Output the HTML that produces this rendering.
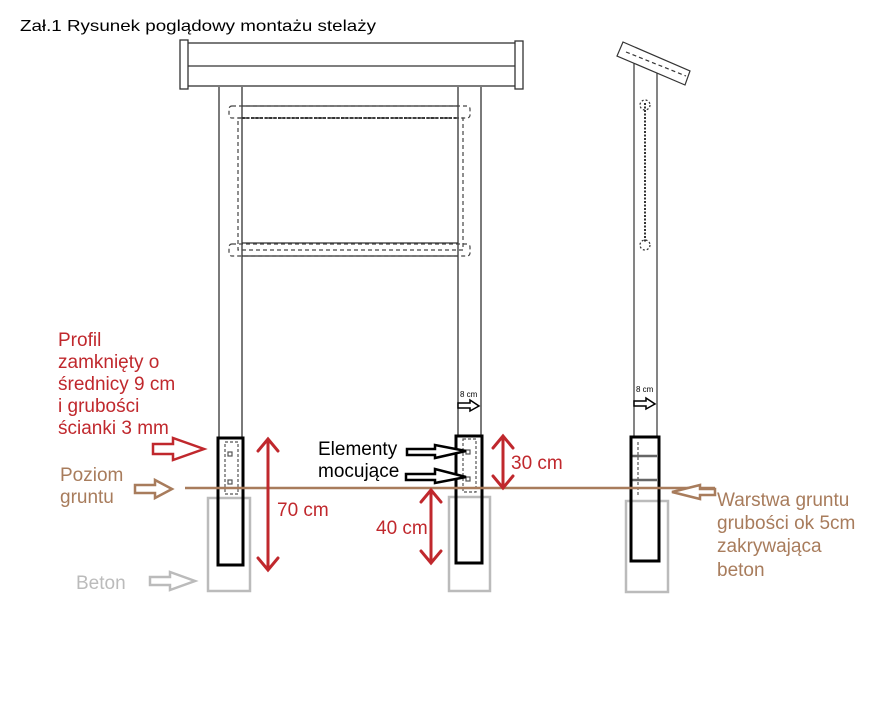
<!DOCTYPE html>
<html><head><meta charset="utf-8"><style>
html,body{margin:0;padding:0;background:#fff;}
svg{display:block;font-family:"Liberation Sans","DejaVu Sans",sans-serif;}
</style></head><body>
<svg width="873" height="719" viewBox="0 0 873 719" xmlns="http://www.w3.org/2000/svg">
<rect width="873" height="719" fill="#fff"/>
<text x="20" y="31" font-size="16" fill="#000" textLength="356" lengthAdjust="spacingAndGlyphs">Zał.1 Rysunek poglądowy montażu stelaży</text>

<g stroke="#333" fill="none" stroke-width="1.3">
<rect x="187" y="43" width="329" height="43"/>
<line x1="187" y1="66" x2="516" y2="66"/>
<rect x="180" y="40" width="8" height="49" fill="#fff"/>
<rect x="515" y="41" width="8" height="48" fill="#fff"/>
<line x1="219" y1="87" x2="219" y2="437"/>
<line x1="242" y1="87" x2="242" y2="437"/>
<line x1="458" y1="87" x2="458" y2="435"/>
<line x1="481" y1="87" x2="481" y2="435"/>
<line x1="242" y1="106" x2="458" y2="106"/>
<line x1="242" y1="118" x2="458" y2="118" stroke-width="2" stroke-dasharray="3,1.5"/>
<line x1="242" y1="243" x2="458" y2="243"/>
<line x1="242" y1="256" x2="458" y2="256"/>
</g>
<g stroke="#444" fill="none" stroke-width="1.2" stroke-dasharray="4,3">
<rect x="229" y="106" width="241" height="12" rx="3"/>
<rect x="229" y="244" width="241" height="12" rx="3"/>
<rect x="238" y="118" width="225" height="132"/>
</g>

<g stroke="#333" fill="none" stroke-width="1.2">
<line x1="634" y1="58" x2="634" y2="437"/>
<line x1="657" y1="60" x2="657" y2="437"/>
<polygon points="623,42 690,71 685,85 617,56" fill="#fff"/>
<polyline points="626,52 686,76" stroke-dasharray="4,3"/>
<path d="M645,103 v140" stroke-dasharray="2,1.5" stroke-width="2"/>
<circle cx="645" cy="105" r="5" stroke-dasharray="2,2"/>
<circle cx="645" cy="245" r="5" stroke-dasharray="2,2"/>
</g>

<g stroke="#bbb" fill="none" stroke-width="2.5">
<rect x="208" y="498" width="42" height="93"/>
<rect x="449" y="497" width="41" height="94"/>
<rect x="626" y="501" width="42" height="91"/>
</g>
<g stroke="#555" fill="none" stroke-width="1.2" stroke-dasharray="3,2">
<rect x="225" y="442" width="13" height="52"/>
<rect x="463" y="439" width="13" height="53"/>
<line x1="638" y1="442" x2="638" y2="495"/>
</g>
<g stroke="#555" fill="none" stroke-width="1.2">
<rect x="228" y="452" width="4" height="4"/><rect x="228" y="480" width="4" height="4"/>
<rect x="466" y="450" width="4" height="4"/><rect x="466" y="477" width="4" height="4"/>
<line x1="632" y1="456" x2="657" y2="456" stroke-width="2.5" stroke="#666"/>
<line x1="632" y1="480" x2="657" y2="480" stroke-width="2.5" stroke="#666"/>
</g>
<g stroke="#000" fill="none" stroke-width="3">
<rect x="218" y="438" width="25" height="127"/>
<rect x="456" y="436" width="26" height="127"/>
<rect x="631" y="437" width="28" height="124"/>
</g>

<line x1="185" y1="488" x2="715" y2="488" stroke="#a87c5c" stroke-width="2.5"/>

<g stroke="#c0282d" stroke-width="3" fill="none" stroke-linecap="round">
<line x1="268" y1="440" x2="268" y2="569"/>
<polyline points="258,451 268,439 278,451"/><polyline points="258,558 268,570 278,558"/>
<line x1="503" y1="437" x2="503" y2="487"/>
<polyline points="493,448 503,436 513,448"/><polyline points="493,476 503,488 513,476"/>
<line x1="431" y1="491" x2="431" y2="562"/>
<polyline points="421,502 431,490 441,502"/><polyline points="421,551 431,563 441,551"/>
</g>
<g font-size="19" fill="#c0282d">
<text x="277" y="516">70 cm</text>
<text x="376" y="534">40 cm</text>
<text x="511" y="469">30 cm</text>
</g>

<polygon points="153,444 173,444 173,438 204,449 173,460 173,454 153,454" fill="#fff" stroke="#c0282d" stroke-width="2.5"/>
<polygon points="135,485 155,485 155,480 172,489 155,498 155,493 135,493" fill="#fff" stroke="#a87c5c" stroke-width="2.5"/>
<polygon points="150,577 170,577 170,572 195,581 170,590 170,585 150,585" fill="#fff" stroke="#bbb" stroke-width="2.5"/>
<polygon points="715,489 700,489 700,485 672,492 700,499 700,495 715,495" fill="#fff" stroke="#a87c5c" stroke-width="2.5"/>
<polygon points="407,449 435,449 435,445 466,451 435,458 435,455 407,455" fill="#fff" stroke="#000" stroke-width="2.5"/>
<polygon points="406,474 435,474 435,469 466,477 435,483 435,480 406,480" fill="#fff" stroke="#000" stroke-width="2.5"/>
<polygon points="458,403 470,403 470,400 479,406 470,411 470,408 458,408" fill="#fff" stroke="#000" stroke-width="1.5"/>
<polygon points="634,401 646,401 646,398 655,404 646,409 646,406 634,406" fill="#fff" stroke="#000" stroke-width="1.5"/>
<text x="460" y="397" font-size="8" fill="#000">8 cm</text>
<text x="636" y="392" font-size="8" fill="#000">8 cm</text>

<g font-size="19" fill="#c0282d">
<text x="58" y="346">Profil</text>
<text x="58" y="368">zamknięty o</text>
<text x="58" y="390">średnicy 9 cm</text>
<text x="58" y="412">i grubości</text>
<text x="58" y="434">ścianki 3 mm</text>
</g>
<g font-size="19" fill="#a87c5c">
<text x="60" y="481">Poziom</text>
<text x="60" y="503">gruntu</text>
<text x="717" y="506">Warstwa gruntu</text>
<text x="717" y="529">grubości ok 5cm</text>
<text x="717" y="552">zakrywająca</text>
<text x="717" y="576">beton</text>
</g>
<text x="76" y="589" font-size="19" fill="#bbb">Beton</text>
<g font-size="19" fill="#000">
<text x="318" y="455">Elementy</text>
<text x="318" y="477">mocujące</text>
</g>
</svg>
</body></html>
